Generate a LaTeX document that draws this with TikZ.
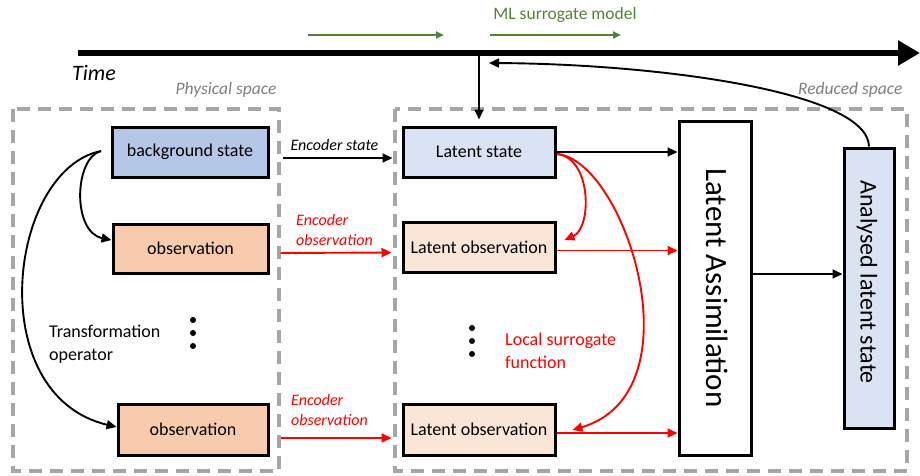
\documentclass[tikz,border=0pt]{standalone}
\usepackage{fontspec}
\setmainfont{Carlito}
\usetikzlibrary{arrows.meta}
\definecolor{bgblue}{HTML}{B4C7E7}
\definecolor{obsorange}{HTML}{F8CBAD}
\definecolor{latblue}{HTML}{DAE3F3}
\definecolor{latorange}{HTML}{FBE5D6}
\definecolor{dashgray}{HTML}{A6A6A6}
\definecolor{txtgray}{HTML}{7F7F7F}
\definecolor{mlgreen}{HTML}{548235}
\definecolor{rd}{HTML}{FF0000}
\begin{document}
\begin{tikzpicture}[x=1pt,y=-1pt,
  box/.style={draw, line width=3pt, inner sep=0pt, font=\fontsize{18}{22}\selectfont},
  arr/.style={-{Triangle[length=10pt,width=9pt]}, line width=1.9pt},
  redarr/.style={arr, draw=rd},
  spacebox/.style={draw=dashgray, line width=3.5pt, dash pattern=on 13pt off 8pt},
  lbl/.style={font=\fontsize{16}{20}\selectfont\itshape},
  plain/.style={font=\fontsize{18}{23}\selectfont, align=left, inner sep=0pt},
  dot/.style={circle, fill=black, inner sep=0pt, minimum size=6pt}
]
\useasboundingbox (0,0) rectangle (920,475);

% dashed regions
\draw[spacebox] (13,109) rectangle (279,471);
\draw[spacebox] (395,109) rectangle (907,471);
\node[font=\fontsize{17.5}{20}\selectfont\itshape, text=txtgray] (phys) at (226,90) {Physical space};
\node[font=\fontsize{17.5}{20}\selectfont\itshape, text=txtgray, anchor=east] (red) at (906,90) {Reduced space};

% time axis
\coordinate (t0) at (78,53);
\coordinate (t1) at (920,53);
\coordinate (tdown) at (479,53);
\coordinate (tback) at (489,63);
\draw[line width=6pt, -{Triangle[length=22pt,width=24pt]}] (t0) -- (t1);
\node[font=\fontsize{22}{24}\selectfont\itshape] (time) at (94,73) {Time};

% ML surrogate model
\coordinate (g1a) at (308,35); \coordinate (g1b) at (444,35);
\coordinate (g2a) at (490,35); \coordinate (g2b) at (621,35);
\draw[draw=mlgreen, line width=2.2pt, -{Triangle[length=8pt,width=7pt]}] (g1a) -- (g1b);
\draw[draw=mlgreen, line width=2.2pt, -{Triangle[length=8pt,width=7pt]}] (g2a) -- (g2b);
\node[font=\fontsize{17.5}{20}\selectfont, text=mlgreen] (ml) at (565,15) {ML surrogate model};

% physical boxes
\node[box, fill=bgblue, minimum width=156pt, minimum height=50pt] (bg) at (190,152) {background state};
\node[box, fill=obsorange, minimum width=155pt, minimum height=49pt] (o1) at (190.5,248.5) {observation};
\node[box, fill=obsorange, minimum width=150pt, minimum height=51pt] (o2) at (193,429.5) {observation};

% latent boxes
\node[box, fill=latblue, minimum width=152pt, minimum height=50pt] (ls) at (479,152) {Latent state};
\node[box, fill=latorange, minimum width=152pt, minimum height=50pt] (lo1) at (479,247) {Latent observation};
\node[box, fill=latorange, minimum width=152pt, minimum height=51pt] (lo2) at (479,429.5) {Latent observation};

% assimilation
\node[box, fill=white, minimum width=72pt, minimum height=334pt] (la) at (715,288) {};
\node[rotate=-90, font=\fontsize{31}{34}\selectfont] (latxt) at (717,288) {Latent Assimilation};
\node[box, fill=latblue, minimum width=50pt, minimum height=280pt] (an) at (869,288) {};
\node[rotate=-90, font=\fontsize{24}{28}\selectfont] (antxt) at (867,282) {Analysed latent state};

% dots
\node[dot] (d1) at (193,320) {}; \node[dot] (d2) at (193,333) {}; \node[dot] (d3) at (193,346) {};
\node[dot] (e1) at (472,328) {}; \node[dot] (e2) at (472,341) {}; \node[dot] (e3) at (472,354) {};

% time arrows
\draw[arr] (tdown) -- ([yshift=6pt]ls.north -| tdown);
\draw[arr] (an.north) .. controls (868,92) and (660,64) .. (tback);

% encoder arrows
\draw[arr, shorten <=13pt, shorten >=9pt] ([yshift=-6pt]bg.east) -- ([yshift=-6pt]ls.west);
\node[lbl, anchor=west] (encs) at (287,145) {Encoder state};
\draw[redarr, shorten <=11pt, shorten >=10pt] ([yshift=-4.5pt]o1.east) -- ([yshift=-5.5pt]lo1.west);
\node[lbl, text=rd, align=left, anchor=west, inner sep=0pt] (enco1) at (296,230) {Encoder\\observation};
\draw[redarr, shorten <=11pt, shorten >=10pt] ([yshift=-8.5pt]o2.east) -- ([yshift=-8.5pt]lo2.west);
\node[lbl, text=rd, align=left, anchor=west, inner sep=0pt] (enco2) at (291,410) {Encoder\\observation};

% latent to assimilation
\draw[arr] (ls.east) -- (ls.east -| la.west);
\draw[redarr] ([yshift=-3.5pt]lo1.east) -- ([yshift=-3.5pt]lo1.east -| la.west);
\draw[redarr] ([yshift=-3.5pt]lo2.east) -- ([yshift=-3.5pt]lo2.east -| la.west);
\draw[arr] (la.east |- 0,274) -- (an.west |- 0,274);

% local surrogate curves
\coordinate (ls0) at (557,154);
\draw[redarr] (ls0) .. controls (592,158) and (592,228) .. ([shift={(8pt,7pt)}]lo1.east);
\draw[redarr] (ls0) .. controls (625,160) and (700,392) .. ([shift={(16pt,-0.5pt)}]lo2.east);
\node[plain, text=rd] (lsf) at (505,351) [anchor=west] {Local surrogate\\function};

% transformation operator curves
\coordinate (bg0) at (101,151);
\draw[arr] (bg0) .. controls (74,158) and (72,232) .. (o1.west |- 0,240);
\draw[arr] (bg0) .. controls (8,170) and (-18,395) .. (o2.west |- 0,427);
\node[plain] (tro) at (49,344) [anchor=west] {Transformation\\operator};
\end{tikzpicture}
\end{document}
